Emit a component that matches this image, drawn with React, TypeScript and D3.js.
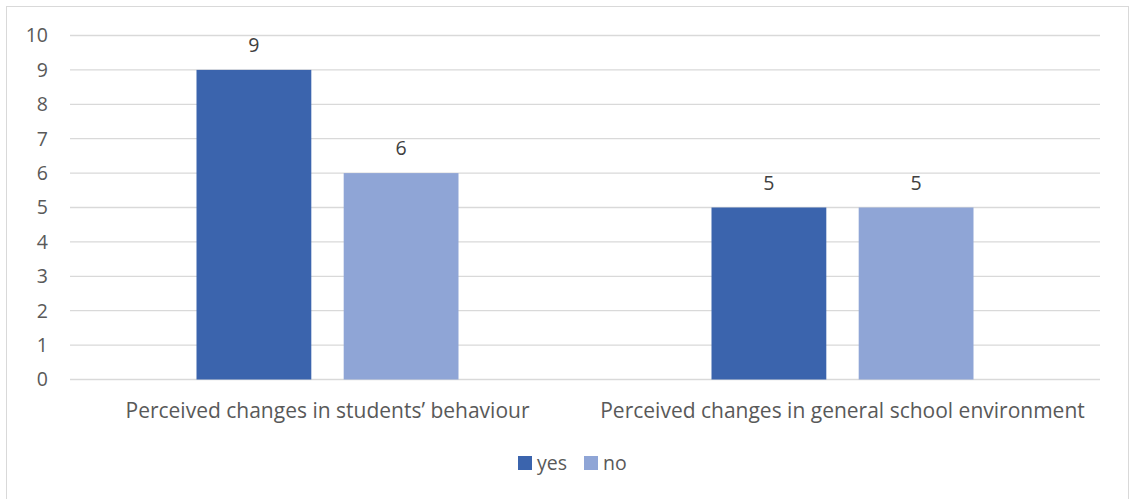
import React, { useEffect, useRef } from 'react';
import * as d3 from 'd3';

const categories = ['Perceived changes in students’ behaviour', 'Perceived changes in general school environment'];
const seriesNames = ['yes', 'no'];
const yesValues = [9, 5];
const noValues = [6, 5];
const yTicks = [0, 1, 2, 3, 4, 5, 6, 7, 8, 9, 10];
const colors = ['#3B64AD', '#8FA5D6'];

export default function App() {
  const svgRef = useRef<SVGSVGElement>(null);

  useEffect(() => {
    if (!svgRef.current) return;
    const width = 1130;
    const height = 499;
    const font = '"Open Sans", Lato, sans-serif';
    const left = 70, right = 1100, top = 35.5, bottom = 379.5;

    const svg = d3.select(svgRef.current);
    svg.selectAll('*').remove();
    svg.attr('width', width).attr('height', height)
      .style('display', 'block')
      .style('position', 'absolute').style('left', '0px').style('top', '0px');

    svg.append('rect')
      .attr('x', 6.5).attr('y', 6.5)
      .attr('width', 1122).attr('height', 500)
      .attr('fill', '#fff').attr('stroke', '#d9d9d9');

    const x = d3.scaleBand<string>().domain(categories).range([left, right]);
    const inner = d3.scaleBand<string>().domain(seriesNames)
      .range([x.bandwidth() / 2 - 131, x.bandwidth() / 2 + 131]).paddingInner(0.22);
    const y = d3.scaleLinear().domain([0, 10]).range([bottom, top]);

    yTicks.forEach(t => {
      svg.append('line')
        .attr('x1', left).attr('x2', right)
        .attr('y1', y(t)).attr('y2', y(t))
        .attr('stroke', '#d9d9d9').attr('stroke-width', 1.3);
      svg.append('text')
        .attr('x', 48).attr('y', y(t))
        .attr('dy', '0.35em')
        .attr('text-anchor', 'end')
        .attr('font-family', font).attr('font-size', 19.5)
        .attr('fill', '#595959')
        .text(t);
    });

    const series = [yesValues, noValues];
    categories.forEach((c, i) => {
      series.forEach((vals, s) => {
        const bx = (x(c) ?? 0) + (inner(seriesNames[s]) ?? 0);
        svg.append('rect')
          .attr('x', bx).attr('y', y(vals[i]))
          .attr('width', inner.bandwidth())
          .attr('height', y(0) - y(vals[i]))
          .attr('fill', colors[s]);
        svg.append('text')
          .attr('x', bx + inner.bandwidth() / 2)
          .attr('y', y(vals[i]) - 18)
          .attr('text-anchor', 'middle')
          .attr('font-family', font).attr('font-size', 19.5)
          .attr('fill', '#404040')
          .text(vals[i]);
      });
      svg.append('text')
        .attr('x', (x(c) ?? 0) + x.bandwidth() / 2)
        .attr('y', 418)
        .attr('text-anchor', 'middle')
        .attr('font-family', font).attr('font-size', 21)
        .attr('fill', '#595959')
        .text(c);
    });

    // legend
    const legendX = [518, 584];
    seriesNames.forEach((n, i) => {
      svg.append('rect')
        .attr('x', legendX[i]).attr('y', 456)
        .attr('width', 14).attr('height', 14)
        .attr('fill', colors[i]);
      svg.append('text')
        .attr('x', legendX[i] + 19).attr('y', 470)
        .attr('font-family', font).attr('font-size', 19.5)
        .attr('fill', '#595959')
        .text(n);
    });
  }, []);

  return <svg ref={svgRef}></svg>;
}
